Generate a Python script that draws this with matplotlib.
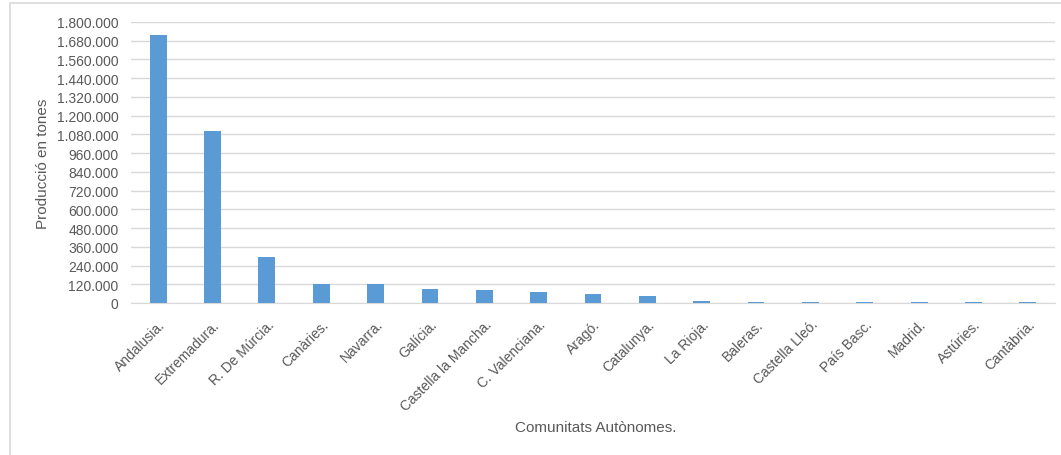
import matplotlib.pyplot as plt
from matplotlib.patches import Rectangle
from matplotlib.ticker import FuncFormatter

# production per autonomous community (tones)
comunitats = ['Andalusia.', 'Extremadura.', 'R. De Múrcia.', 'Canàries.', 'Navarra.',
              'Galícia.', 'Castella la Mancha.', 'C. Valenciana.', 'Aragó.', 'Catalunya.',
              'La Rioja.', 'Baleras.', 'Castella Lleó.', 'País Basc.', 'Madrid.',
              'Astúries.', 'Cantàbria.']
produccio = [1714000, 1101000, 295000, 121000, 119000,
             90000, 85000, 69000, 58000, 47000,
             11000, 4000, 4000, 3500, 3500,
             3500, 3500]

yticks = list(range(0, 1800001, 120000))

plt.rcParams['font.family'] = ['Liberation Sans', 'DejaVu Sans']
grey = '#595959'

fig = plt.figure(figsize=(10.61, 4.56), dpi=100)
ax = fig.add_axes([131 / 1061, 1 - 304 / 456, (1055 - 131) / 1061, (304 - 23) / 456])

# light frame around the chart area
fig.patches.append(Rectangle((10 / 1061, -0.01), 1.02, (456 - 4) / 456 + 0.01,
                             transform=fig.transFigure, fill=False,
                             edgecolor='#d9d9d9', linewidth=1.2))

x = range(len(comunitats))
ax.bar(x, produccio, width=0.31, color='#5b9bd5', zorder=3)

ax.set_xlim(-0.5, len(comunitats) - 0.5)
ax.set_ylim(0, 1800000)
ax.set_yticks(yticks)
ax.yaxis.set_major_formatter(FuncFormatter(lambda v, p: f'{int(v):,}'.replace(',', '.')))
ax.set_xticks(list(x))
ax.set_xticklabels(comunitats, rotation=45, ha='right', rotation_mode='anchor')

ax.grid(axis='y', color='#d9d9d9', linewidth=1, zorder=0)
for s in ['top', 'right', 'left']:
    ax.spines[s].set_visible(False)
ax.spines['bottom'].set_color('#d9d9d9')
ax.tick_params(axis='both', length=0, colors=grey, labelsize=10)
ax.tick_params(axis='x', pad=10)
ax.tick_params(axis='y', pad=9)

ax.set_ylabel('Producció en tones', color=grey, fontsize=11, labelpad=5)
fig.text(596 / 1061, 1 - 428 / 456, 'Comunitats Autònomes.', color=grey,
         fontsize=11, ha='center', va='center')

fig.savefig('out.png', dpi=100)
